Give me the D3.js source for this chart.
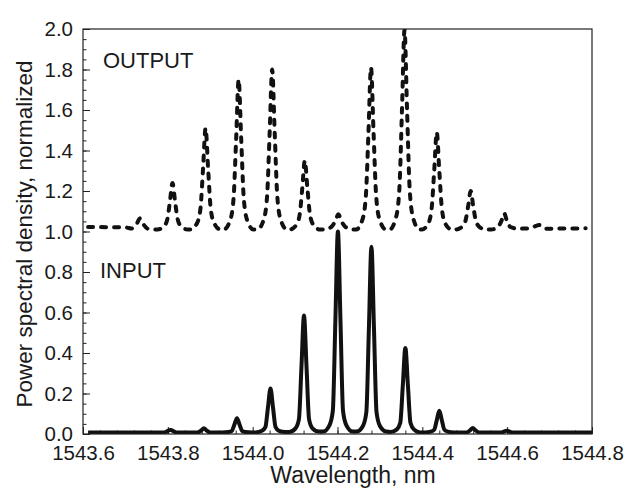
<!DOCTYPE html>
<html>
<head>
<meta charset="utf-8">
<title>Power spectral density</title>
<script src="https://d3js.org/d3.v7.min.js"></script>
<style>
  body { margin: 0; background: #fff; }
  svg text { font-family: "Liberation Sans", Arial, sans-serif; fill: #1a1a1a; }
  .frame { fill: none; stroke: #222; stroke-width: 1.2px; }
  .axis path { display: none; }
  .axis line { stroke: #222; stroke-width: 1px; }
</style>
</head>
<body>
<script>
// measured spectra (wavelength in nm, normalized PSD)
var inputWl = [1543.612, 1543.791, 1543.806, 1543.821,
  1543.870, 1543.879, 1543.885, 1543.891, 1543.900,
  1543.928, 1543.943, 1543.951, 1543.957, 1543.963, 1543.969, 1543.975, 1543.983, 1543.998,
  1544.007, 1544.022, 1544.030, 1544.036, 1544.042, 1544.048, 1544.054, 1544.062, 1544.077,
  1544.086, 1544.101, 1544.109, 1544.115, 1544.121, 1544.127, 1544.133, 1544.141, 1544.156,
  1544.166, 1544.181, 1544.189, 1544.195, 1544.201, 1544.207, 1544.213, 1544.221, 1544.236,
  1544.245, 1544.260, 1544.268, 1544.274, 1544.280, 1544.286, 1544.292, 1544.300, 1544.315,
  1544.325, 1544.340, 1544.348, 1544.354, 1544.360, 1544.366, 1544.372, 1544.380, 1544.395,
  1544.405, 1544.420, 1544.428, 1544.434, 1544.440, 1544.446, 1544.452, 1544.460, 1544.475,
  1544.504, 1544.513, 1544.519, 1544.525, 1544.534,
  1544.586, 1544.599, 1544.612, 1544.800];
var inputPsd = [0.008, 0.008, 0.020, 0.008,
  0.008, 0.018, 0.028, 0.018, 0.008,
  0.008, 0.010, 0.016, 0.047, 0.078, 0.047, 0.016, 0.010, 0.008,
  0.008, 0.016, 0.034, 0.130, 0.225, 0.130, 0.034, 0.016, 0.010,
  0.010, 0.028, 0.072, 0.330, 0.585, 0.330, 0.072, 0.028, 0.012,
  0.012, 0.043, 0.115, 0.560, 1.000, 0.560, 0.115, 0.043, 0.012,
  0.012, 0.040, 0.108, 0.520, 0.925, 0.520, 0.108, 0.040, 0.012,
  0.010, 0.023, 0.055, 0.240, 0.425, 0.240, 0.055, 0.023, 0.008,
  0.008, 0.012, 0.021, 0.068, 0.115, 0.068, 0.021, 0.012, 0.008,
  0.008, 0.019, 0.030, 0.019, 0.008,
  0.008, 0.016, 0.008, 0.008];

var outputWl = [1543.612, 1543.700,
  1543.715, 1543.728, 1543.734, 1543.740, 1543.755,
  1543.776, 1543.791, 1543.799, 1543.805, 1543.811, 1543.817, 1543.823, 1543.831, 1543.846,
  1543.854, 1543.869, 1543.877, 1543.883, 1543.889, 1543.895, 1543.901, 1543.909, 1543.924,
  1543.932, 1543.947, 1543.955, 1543.961, 1543.967, 1543.973, 1543.979, 1543.987, 1544.002,
  1544.011, 1544.026, 1544.034, 1544.040, 1544.046, 1544.052, 1544.058, 1544.066, 1544.081,
  1544.088, 1544.103, 1544.111, 1544.117, 1544.123, 1544.129, 1544.135, 1544.143, 1544.158,
  1544.170, 1544.185, 1544.195, 1544.202, 1544.209, 1544.219, 1544.236,
  1544.244, 1544.259, 1544.267, 1544.273, 1544.279, 1544.285, 1544.291, 1544.299, 1544.314,
  1544.323, 1544.338, 1544.346, 1544.352, 1544.358, 1544.364, 1544.370, 1544.378, 1544.393,
  1544.399, 1544.414, 1544.422, 1544.428, 1544.434, 1544.440, 1544.446, 1544.454, 1544.469,
  1544.479, 1544.494, 1544.502, 1544.508, 1544.514, 1544.520, 1544.526, 1544.534, 1544.549,
  1544.563, 1544.578, 1544.587, 1544.593, 1544.599, 1544.608, 1544.625,
  1544.655, 1544.668, 1544.675, 1544.690, 1544.785];
var outputPsd = [1.022, 1.020,
  1.015, 1.043, 1.065, 1.043, 1.012,
  1.010, 1.026, 1.062, 1.150, 1.240, 1.150, 1.062, 1.026, 1.010,
  1.010, 1.042, 1.115, 1.310, 1.510, 1.310, 1.115, 1.042, 1.010,
  1.010, 1.056, 1.165, 1.455, 1.750, 1.455, 1.165, 1.056, 1.010,
  1.010, 1.058, 1.175, 1.485, 1.800, 1.485, 1.175, 1.058, 1.010,
  1.010, 1.033, 1.085, 1.215, 1.350, 1.215, 1.085, 1.033, 1.010,
  1.010, 1.022, 1.052, 1.085, 1.052, 1.022, 1.010,
  1.010, 1.060, 1.180, 1.490, 1.810, 1.490, 1.180, 1.060, 1.010,
  1.010, 1.070, 1.215, 1.600, 1.995, 1.600, 1.215, 1.070, 1.010,
  1.010, 1.040, 1.115, 1.300, 1.490, 1.300, 1.115, 1.040, 1.010,
  1.010, 1.024, 1.055, 1.125, 1.200, 1.125, 1.055, 1.024, 1.010,
  1.010, 1.022, 1.055, 1.090, 1.055, 1.022, 1.014,
  1.016, 1.028, 1.032, 1.014, 1.016];

var xTicks = [1543.6, 1543.8, 1544.0, 1544.2, 1544.4, 1544.6, 1544.8];
var yTicks = [0.0, 0.2, 0.4, 0.6, 0.8, 1.0, 1.2, 1.4, 1.6, 1.8, 2.0];

var width = 626, height = 488;
var margin = {top: 29, right: 34, bottom: 54, left: 83};
var w = width - margin.left - margin.right;
var h = height - margin.top - margin.bottom;

var svg = d3.select("body").append("svg")
  .attr("width", width)
  .attr("height", height);

var g = svg.append("g")
  .attr("transform", "translate(" + margin.left + "," + margin.top + ")");

var x = d3.scaleLinear().domain([1543.6, 1544.8]).range([0, w]);
var y = d3.scaleLinear().domain([0, 2.0]).range([h, 0]);

svg.append("defs").append("clipPath").attr("id", "plot")
  .append("rect").attr("width", w).attr("height", h);

// minor ticks (inward)
var xMinor = d3.range(0, 31).map(function(i) { return 1543.6 + i * 0.04; });
var yMinor = d3.range(0, 41).map(function(i) { return i * 0.05; });

g.append("g").attr("class", "axis")
  .attr("transform", "translate(0," + h + ")")
  .call(d3.axisBottom(x).tickValues(xMinor).tickSize(-3.5).tickFormat(""));
g.append("g").attr("class", "axis")
  .call(d3.axisLeft(y).tickValues(yMinor).tickSize(-3.5).tickFormat(""));

// major ticks + labels
var xAxis = g.append("g").attr("class", "axis")
  .attr("transform", "translate(0," + h + ")")
  .call(d3.axisBottom(x).tickValues(xTicks).tickSize(-7).tickPadding(11)
    .tickFormat(d3.format(".1f")));
xAxis.selectAll("text").style("font-size", "20.5px").attr("fill", "#1a1a1a");

var yAxis = g.append("g").attr("class", "axis")
  .call(d3.axisLeft(y).tickValues(yTicks).tickSize(-7).tickPadding(10)
    .tickFormat(d3.format(".1f")));
yAxis.selectAll("text").style("font-size", "20.5px").attr("fill", "#1a1a1a");

// curves
var inputData = inputWl.map(function(d, i) { return [d, inputPsd[i]]; });
var outputData = outputWl.map(function(d, i) { return [d, outputPsd[i]]; });

var line = d3.line()
  .x(function(d) { return x(d[0]); })
  .y(function(d) { return y(d[1]); })
  .curve(d3.curveMonotoneX);

var curves = g.append("g").attr("clip-path", "url(#plot)");

curves.append("path")
  .datum(outputData)
  .attr("d", line)
  .attr("fill", "none")
  .attr("stroke", "#111")
  .attr("stroke-width", 4)
  .attr("stroke-linecap", "round")
  .attr("stroke-linejoin", "round")
  .attr("stroke-dasharray", "5,8");

curves.append("path")
  .datum(inputData)
  .attr("d", line)
  .attr("fill", "none")
  .attr("stroke", "#111")
  .attr("stroke-width", 4)
  .attr("stroke-linejoin", "round");

// frame
g.append("rect").attr("class", "frame")
  .attr("width", w).attr("height", h);

// labels
g.append("text").text("OUTPUT")
  .attr("x", 20).attr("y", 39)
  .style("font-size", "22px");
g.append("text").text("INPUT")
  .attr("x", 17).attr("y", 249)
  .style("font-size", "22px");

svg.append("text").text("Wavelength, nm")
  .attr("x", 353).attr("y", 483)
  .attr("text-anchor", "middle")
  .style("font-size", "23px");

svg.append("text").text("Power spectral density, normalized")
  .attr("transform", "translate(32,234) rotate(-90)")
  .attr("text-anchor", "middle")
  .style("font-size", "22.5px");
</script>
</body>
</html>
